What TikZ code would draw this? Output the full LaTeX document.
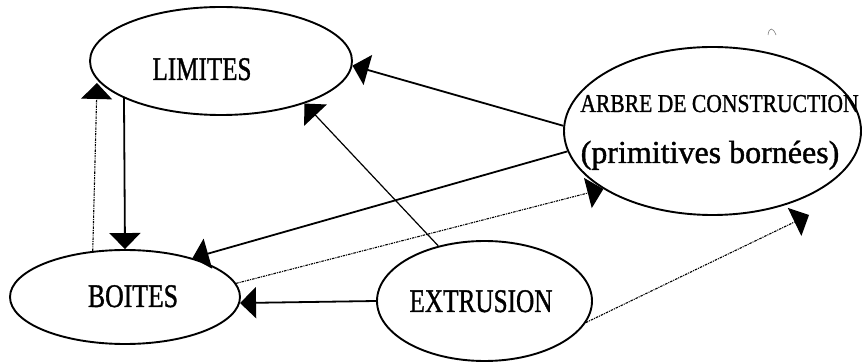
\documentclass[tikz,border=0pt]{standalone}
\usepackage{fontspec}
\setmainfont{Liberation Serif}
\newfontface\inkface{Liberation Serif}[FakeBold=1.2]
\usetikzlibrary{arrows.meta,shapes.geometric}
\newcommand\sqz[2]{\scalebox{#1}[1]{#2}}
\begin{document}
\begin{tikzpicture}[x=1pt,y=-1pt,
  oval/.style={draw,ellipse,line width=1.9pt,inner sep=0pt},
  headtip/.style={-{Triangle[length=16pt,width=31pt]}},
  solidarrow/.style={line width=1.8pt,headtip},
  thinarrow/.style={line width=1.2pt,headtip},
  dotarrow/.style={line width=1.1pt,dash pattern=on 2.5pt off 1pt on 1pt off 1pt,headtip},
  lbl/.style={anchor=base,inner sep=0pt},
  capsfont/.style={font=\inkface\fontsize{33}{36}\selectfont}
]
\useasboundingbox (0,0) rectangle (862,363);

% ellipses
\node[oval,minimum width=262pt,minimum height=108pt] (L) at (221,61) {};
\node[oval,minimum width=230pt,minimum height=94pt] (B) at (125,297) {};
\node[oval,minimum width=215pt,minimum height=120pt] (E) at (484.5,301) {};
\node[oval,minimum width=297pt,minimum height=168pt] (A) at (712.5,131) {};

% labels
\node[lbl,capsfont] (tL) at (202,80) {\sqz{0.76}{LIMITES}};
\node[lbl,capsfont] (tB) at (133,307) {\sqz{0.78}{BOITES}};
\node[lbl,capsfont] (tE) at (481,312) {\sqz{0.765}{EXTRUSION}};
\node[lbl,font=\inkface\fontsize{25.7}{28}\selectfont] (tA1) at (719.5,112) {\sqz{0.84}{ARBRE DE CONSTRUCTION}};
\node[lbl,font=\inkface\fontsize{32}{34}\selectfont] (tA2) at (710,163) {(primitives bornées)};

% free tip points
\path (L.center) ++(-124,22) coordinate (Ltip);
\path (A.center) ++(96.5,84) coordinate (Atip);

% connectors
\draw[solidarrow] (A.178.4) -- (L.-2);
\draw[thinarrow] (E.130) -- (L.-27);
\draw[solidarrow] (L.201.8) -- (B.90);
\draw[dotarrow] (B.125.4) -- (Ltip);
\draw[solidarrow] (A.188.6) -- (B.30.5);
\draw[dotarrow] (B.7.4) -- (A.208.4);
\draw[solidarrow] (E.180) -- (B.-3.7);
\draw[dotarrow] (E.-12) -- (Atip);

% small stray mark
\draw[gray,line width=0.6pt] (768,35) .. controls (769,27) and (773,27) .. (776,35);
\end{tikzpicture}
\end{document}
